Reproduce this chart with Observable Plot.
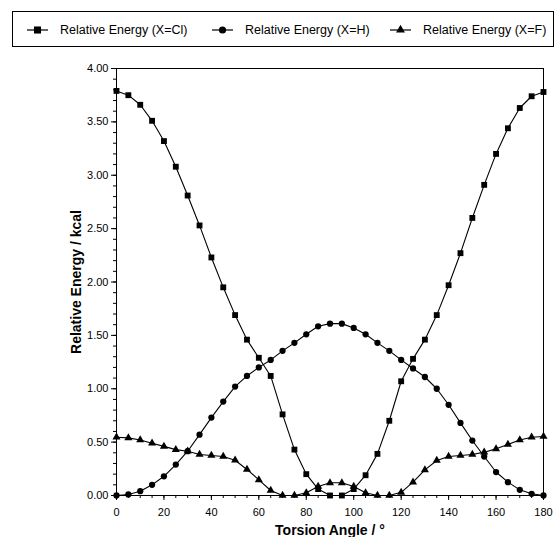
<!DOCTYPE html>
<html>
<head>
<meta charset="utf-8">
<script src="https://cdn.jsdelivr.net/npm/d3@7"></script>
<script src="https://cdn.jsdelivr.net/npm/@observablehq/plot@0.6"></script>
<style>
  html, body { margin: 0; padding: 0; background: #fff; }
  body { width: 558px; height: 537px; position: relative; overflow: hidden; font-family: "Liberation Sans", Arial, sans-serif; }
  #legend { position: relative; width: 558px; height: 55px; }
  #legend .box { position: absolute; left: 12px; top: 11px; width: 542px; height: 36px; border: 1px solid #000; box-sizing: border-box; }
  #legend .item { position: absolute; top: 22px; height: 16px; display: flex; align-items: center; font-size: 12.5px; color: #000; white-space: nowrap; }
  #legend svg { display: block; margin-right: 12px; }
  #chart svg { display: block; }
</style>
</head>
<body>
<div id="legend"><div class="box"></div></div>
<div id="chart"></div>
<script>
// ---- data ----
const angles = [0, 5, 10, 15, 20, 25, 30, 35, 40, 45, 50, 55, 60, 65, 70, 75, 80, 85, 90,
                95, 100, 105, 110, 115, 120, 125, 130, 135, 140, 145, 150, 155, 160, 165, 170, 175, 180];
const energyCl = [3.79, 3.75, 3.66, 3.51, 3.32, 3.08, 2.81, 2.53, 2.23, 1.95, 1.69, 1.46, 1.29, 1.12, 0.76, 0.43, 0.20, 0.06, 0.00,
                  0.00, 0.06, 0.19, 0.39, 0.70, 1.07, 1.28, 1.46, 1.69, 1.97, 2.27, 2.60, 2.91, 3.20, 3.44, 3.63, 3.74, 3.78];
const energyH = [0.00, 0.01, 0.04, 0.10, 0.18, 0.29, 0.415, 0.57, 0.73, 0.88, 1.02, 1.12, 1.20, 1.27, 1.355, 1.43, 1.51, 1.585, 1.61,
                 1.61, 1.57, 1.51, 1.43, 1.355, 1.27, 1.19, 1.11, 1.00, 0.85, 0.68, 0.515, 0.365, 0.22, 0.125, 0.053, 0.016, 0.00];
const energyF = [0.546, 0.54, 0.52, 0.49, 0.46, 0.43, 0.415, 0.384, 0.375, 0.365, 0.33, 0.244, 0.147, 0.047, 0.00, 0.00, 0.025, 0.084, 0.119,
                 0.119, 0.084, 0.025, 0.00, 0.00, 0.03, 0.125, 0.24, 0.328, 0.365, 0.375, 0.384, 0.406, 0.437, 0.478, 0.52, 0.546, 0.553];
const seriesNames = ["Relative Energy (X=Cl)", "Relative Energy (X=H)", "Relative Energy (X=F)"];
const yTicks = [0, 0.5, 1, 1.5, 2, 2.5, 3, 3.5, 4];
const xTicks = [0, 20, 40, 60, 80, 100, 120, 140, 160, 180];
const xLabel = "Torsion Angle / °";
const yLabel = "Relative Energy / kcal";

// ---- build table ----
const seriesValues = [energyCl, energyH, energyF];
const symbols = ["square", "circle", "triangle"];
const radii = [4, 3.6, 3.3];
const data = [];
seriesValues.forEach((vals, s) => {
  vals.forEach((v, i) => data.push({series: seriesNames[s], angle: angles[i], energy: v}));
});

// ---- legend ----
const legend = document.getElementById("legend");
const legendX = [27, 212, 390];
seriesNames.forEach((name, s) => {
  const item = document.createElement("div");
  item.className = "item";
  item.style.left = legendX[s] + "px";
  const sym = d3.create("svg").attr("width", 21).attr("height", 16);
  sym.append("line").attr("x1", 0).attr("x2", 21).attr("y1", 8).attr("y2", 8).attr("stroke", "#000").attr("stroke-width", 1.2);
  const symType = [d3.symbolSquare, d3.symbolCircle, d3.symbolTriangle][s];
  sym.append("path").attr("transform", "translate(10.5,8)")
    .attr("d", d3.symbol(symType, Math.PI * radii[s] * radii[s])()).attr("fill", "#000");
  item.appendChild(sym.node());
  const t = document.createElement("span");
  t.textContent = name;
  item.appendChild(t);
  legend.appendChild(item);
});

// ---- chart ----
const minorY = d3.range(0, 4.001, 0.1).map(v => +v.toFixed(1));
const minorX = d3.range(0, 181, 5);

const chart = Plot.plot({
  width: 558,
  height: 482,
  marginTop: 13,
  marginBottom: 42,
  marginLeft: 116,
  marginRight: 15,
  style: {fontFamily: "'Liberation Sans', Arial, sans-serif", fontSize: "11px", color: "#000", background: "#fff"},
  x: {domain: [0, 180]},
  y: {domain: [0, 4]},
  marks: [
    Plot.axisY(minorY, {tickSize: 3, text: null, label: null, stroke: "#000"}),
    Plot.axisY(yTicks, {tickSize: 5, tickPadding: 3, tickFormat: d3.format(".2f"), label: null, stroke: "#000", fill: "#000"}),
    Plot.axisX(minorX, {tickSize: 3, text: null, label: null, stroke: "#000"}),
    Plot.axisX(xTicks, {tickSize: 5, tickPadding: 8, label: null, stroke: "#000", fill: "#000"}),
    Plot.ruleX([0]),
    Plot.ruleX([180]),
    Plot.ruleY([0]),
    Plot.ruleY([4]),
    Plot.line(data, {x: "angle", y: "energy", z: "series", stroke: "#000", strokeWidth: 1.1}),
    Plot.dot(data, {x: "angle", y: "energy", symbol: d => symbols[seriesNames.indexOf(d.series)],
                    r: d => radii[seriesNames.indexOf(d.series)], fill: "#000", stroke: null}),
    Plot.text([yLabel], {frameAnchor: "left", dx: -40, rotate: -90, textAnchor: "middle", lineAnchor: "middle", fontWeight: "bold", fontSize: 14, fill: "#000"}),
    Plot.text([xLabel], {frameAnchor: "bottom", dy: 35, textAnchor: "middle", lineAnchor: "middle", fontWeight: "bold", fontSize: 14, fill: "#000"})
  ]
});
document.getElementById("chart").appendChild(chart);
</script>
</body>
</html>
